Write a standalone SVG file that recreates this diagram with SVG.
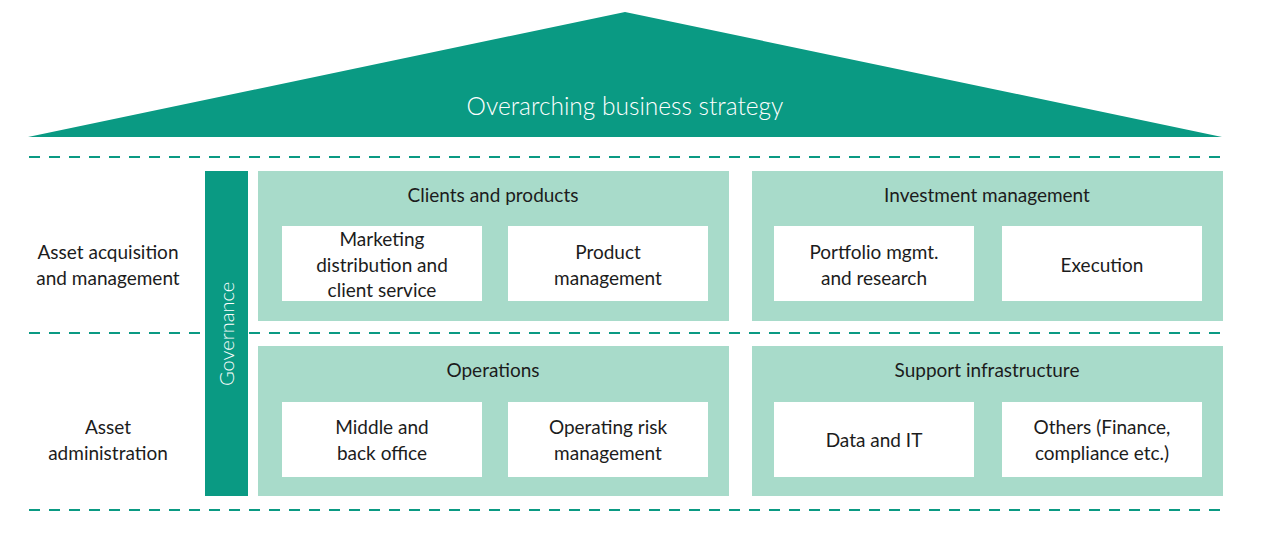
<svg xmlns="http://www.w3.org/2000/svg" width="1274" height="538" viewBox="0 0 1274 538">
<style>
.bg{fill:#ffffff}
.roof{fill:#0a9a83}
.dash{stroke:#0a9a83;stroke-width:2;stroke-dasharray:11 9;fill:none}
.gov{fill:#0a9a83}
.panel{fill:#a8dbca}
.box{fill:#ffffff}
.t{font-family:Lato,"Open Sans","Liberation Sans",sans-serif;font-size:19px;fill:#1c1c1c;text-anchor:middle;font-weight:400}
.tw{font-family:Lato,"Open Sans","Liberation Sans",sans-serif;fill:#ffffff;text-anchor:middle;font-weight:300}
</style>
<rect class="bg" x="0" y="0" width="1274" height="538"/>
<g id="roof">
<polygon class="roof" points="28,137 625,12 1222,137"/>
<text class="tw" x="625" y="115" font-size="24.5">Overarching business strategy</text>
</g>
<g id="dividers">
<line class="dash" x1="29" y1="157" x2="1222" y2="157"/>
<line class="dash" x1="29" y1="333" x2="1222" y2="333"/>
<line class="dash" x1="29" y1="510" x2="1222" y2="510"/>
</g>
<g id="row-labels">
<text class="t" x="108" y="259">Asset acquisition</text>
<text class="t" x="108" y="285">and management</text>
<text class="t" x="108" y="434">Asset</text>
<text class="t" x="108" y="460">administration</text>
</g>
<g id="governance">
<rect class="gov" x="205" y="171" width="43" height="325"/>
<text class="tw" font-size="20" transform="translate(234,334) rotate(-90)">Governance</text>
</g>
<g id="clients-products">
<rect class="panel" x="258" y="171" width="471" height="150"/>
<text class="t" x="493" y="202">Clients and products</text>
</g>
<g id="marketing">
<rect class="box" x="282" y="226" width="200" height="75"/>
<text class="t" x="382" y="246">Marketing</text>
<text class="t" x="382" y="272">distribution and</text>
<text class="t" x="382" y="297">client service</text>
</g>
<g id="product-management">
<rect class="box" x="508" y="226" width="200" height="75"/>
<text class="t" x="608" y="259">Product</text>
<text class="t" x="608" y="285">management</text>
</g>
<g id="investment-management">
<rect class="panel" x="752" y="171" width="471" height="150"/>
<text class="t" x="987" y="202">Investment management</text>
</g>
<g id="portfolio">
<rect class="box" x="774" y="226" width="200" height="75"/>
<text class="t" x="874" y="259">Portfolio mgmt.</text>
<text class="t" x="874" y="285">and research</text>
</g>
<g id="execution">
<rect class="box" x="1002" y="226" width="200" height="75"/>
<text class="t" x="1102" y="272">Execution</text>
</g>
<g id="operations">
<rect class="panel" x="258" y="346" width="471" height="150"/>
<text class="t" x="493" y="377">Operations</text>
</g>
<g id="middle-back-office">
<rect class="box" x="282" y="402" width="200" height="75"/>
<text class="t" x="382" y="434">Middle and</text>
<text class="t" x="382" y="460">back office</text>
</g>
<g id="operating-risk">
<rect class="box" x="508" y="402" width="200" height="75"/>
<text class="t" x="608" y="434">Operating risk</text>
<text class="t" x="608" y="460">management</text>
</g>
<g id="support-infrastructure">
<rect class="panel" x="752" y="346" width="471" height="150"/>
<text class="t" x="987" y="377">Support infrastructure</text>
</g>
<g id="data-it">
<rect class="box" x="774" y="402" width="200" height="75"/>
<text class="t" x="874" y="447">Data  and IT</text>
</g>
<g id="others">
<rect class="box" x="1002" y="402" width="200" height="75"/>
<text class="t" x="1102" y="434">Others (Finance,</text>
<text class="t" x="1102" y="460">compliance etc.)</text>
</g>
<g id="connectors"></g>
</svg>
